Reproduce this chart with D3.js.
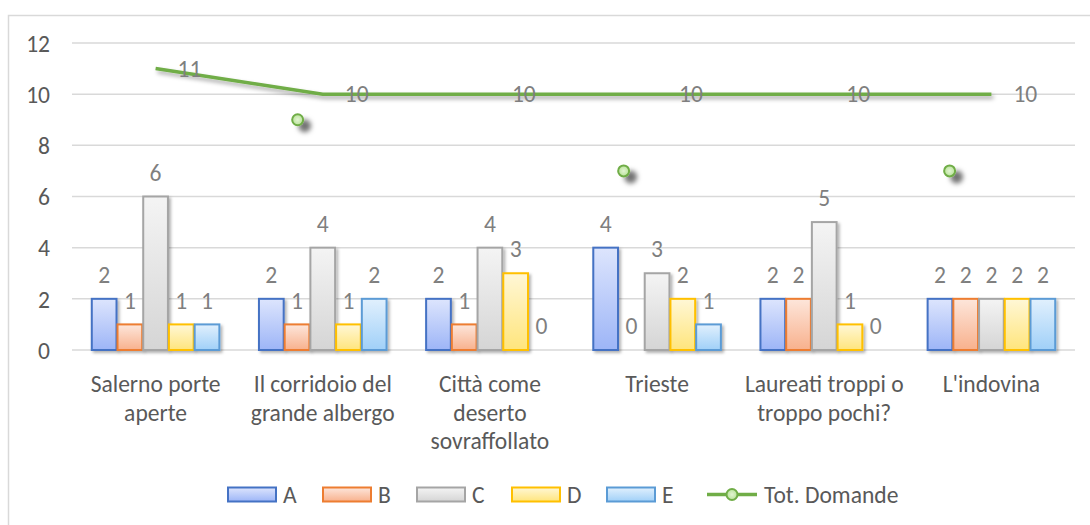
<!DOCTYPE html>
<html>
<head>
<meta charset="utf-8">
<script src="https://cdn.jsdelivr.net/npm/d3@7"></script>
<style>
  html, body { margin: 0; padding: 0; background: #ffffff; }
  svg { display: block; }
</style>
</head>
<body>
<svg id="chart" width="1090" height="525"></svg>
<script>
// ---------------- DATA ----------------
const categories = [
  "Salerno porte\naperte",
  "Il corridoio del\ngrande albergo",
  "Città come\ndeserto\nsovraffollato",
  "Trieste",
  "Laureati troppi o\ntroppo pochi?",
  "L'indovina"
];
const seriesNames = ["A", "B", "C", "D", "E"];
const valuesA = [2, 2, 2, 4, 2, 2];
const valuesB = [1, 1, 1, 0, 2, 2];
const valuesC = [6, 4, 4, 3, 5, 2];
const valuesD = [1, 1, 3, 2, 1, 2];
const valuesE = [1, 2, 0, 1, 0, 2];
const lineName = "Tot. Domande";
const totDomande = [11, 10, 10, 10, 10, 10];
// stray line markers drawn by the original (category position index, value)
const strayMarkerPos = [0.85, 2.8, 4.75];
const strayMarkerVal = [9, 7, 7];
const yTicks = [0, 2, 4, 6, 8, 10, 12];

// ---------------- STYLE ----------------
const seriesValues = [valuesA, valuesB, valuesC, valuesD, valuesE];
const strokeColors = ["#4472c4", "#ed7d31", "#a5a5a5", "#ffc000", "#5b9bd5"];
const gradTop =    ["#dde5fd", "#fde6db", "#f4f4f4", "#fff7d6", "#e1f0fd"];
const gradBottom = ["#9db5f7", "#f8b18d", "#d5d5d5", "#ffe57c", "#a0d0f8"];
const lineColor = "#70ad47";
const gridColor = "#d9d9d9";
const textColor = "#595959";
const labelColor = "#7f7f7f";
const fontFamily = "Carlito, Calibri, Lato, 'Open Sans', sans-serif";

const svg = d3.select("#chart");

// font size calibration so that text widths match the reference
const probe = svg.append("text").attr("font-family", fontFamily).attr("font-size", 100).text("Salerno porte");
const probeW = probe.node().getComputedTextLength();
probe.remove();
const fs = Math.max(16, Math.min(24, 100 * 130 / probeW));

// ---------------- LAYOUT ----------------
const plotLeft = 72, plotRight = 1075, plotTop = 43, plotBottom = 350;

const x = d3.scaleBand().domain(d3.range(categories.length)).range([plotLeft, plotRight]).paddingInner(0).paddingOuter(0);
const groupW = x.bandwidth() / 1.3;
const xs = d3.scaleBand().domain(seriesNames).range([0, groupW]).padding(0);
const xIdx = d3.scaleLinear().domain([-0.5, categories.length - 0.5]).range([plotLeft, plotRight]);
const y = d3.scaleLinear().domain([0, 12]).range([plotBottom, plotTop]);

// defs
const defs = svg.append("defs");
seriesNames.forEach((s, i) => {
  const g = defs.append("linearGradient").attr("id", "grad" + s).attr("x1", 0).attr("y1", 0).attr("x2", 0).attr("y2", 1);
  g.append("stop").attr("offset", "0%").attr("stop-color", gradTop[i]);
  g.append("stop").attr("offset", "100%").attr("stop-color", gradBottom[i]);
});
const mg = defs.append("radialGradient").attr("id", "markerGrad");
mg.append("stop").attr("offset", "0%").attr("stop-color", "#e2f4d2");
mg.append("stop").attr("offset", "100%").attr("stop-color", "#b9e39a");
const fBar = defs.append("filter").attr("id", "barShadow").attr("x", "-20%").attr("y", "-20%").attr("width", "150%").attr("height", "150%");
fBar.append("feDropShadow").attr("dx", 2).attr("dy", 2).attr("stdDeviation", 1.5).attr("flood-color", "#000").attr("flood-opacity", 0.3);
const fLine = defs.append("filter").attr("id", "lineShadow").attr("x", "-10%").attr("y", "-50%").attr("width", "120%").attr("height", "300%");
fLine.append("feDropShadow").attr("dx", 2).attr("dy", 3).attr("stdDeviation", 2).attr("flood-color", "#000").attr("flood-opacity", 0.35);
const fMark = defs.append("filter").attr("id", "markShadow").attr("x", "-100%").attr("y", "-100%").attr("width", "400%").attr("height", "400%");
fMark.append("feDropShadow").attr("dx", 7).attr("dy", 6).attr("stdDeviation", 2.5).attr("flood-color", "#000").attr("flood-opacity", 0.55);

// chart border
svg.append("rect").attr("x", 8.5).attr("y", 15.5).attr("width", 1200).attr("height", 600)
  .attr("fill", "none").attr("stroke", gridColor).attr("stroke-width", 1.5);

// gridlines
svg.append("g").selectAll("line").data(yTicks).join("line")
  .attr("x1", plotLeft).attr("x2", plotRight)
  .attr("y1", d => y(d)).attr("y2", d => y(d))
  .attr("stroke", gridColor).attr("stroke-width", 1.5);

// y axis labels
const yAxis = d3.axisLeft(y).tickValues(yTicks).tickSize(0).tickPadding(0).tickFormat(d3.format("d"));
const yg = svg.append("g").attr("transform", `translate(50,0)`).call(yAxis);
yg.select(".domain").remove();
yg.selectAll("text").attr("font-family", fontFamily).attr("font-size", fs).attr("fill", textColor)
  .attr("dy", "0.35em").attr("x", 0);

// bars
const barsG = svg.append("g");
seriesNames.forEach((s, i) => {
  const vals = seriesValues[i];
  barsG.append("g").selectAll("rect").data(vals).join("rect")
    .attr("x", (d, c) => x(c) + (x.bandwidth() - groupW) / 2 + xs(s) + 0.5)
    .attr("y", d => y(d))
    .attr("width", xs.bandwidth() - 1)
    .attr("height", d => y(0) - y(d))
    .attr("fill", "url(#grad" + s + ")")
    .attr("stroke", d => d > 0 ? strokeColors[i] : "none")
    .attr("stroke-width", 2)
    .attr("filter", "url(#barShadow)");
});
// bar labels
seriesNames.forEach((s, i) => {
  const vals = seriesValues[i];
  svg.append("g").selectAll("text").data(vals).join("text")
    .attr("x", (d, c) => x(c) + (x.bandwidth() - groupW) / 2 + xs(s) + xs.bandwidth() / 2)
    .attr("y", d => y(d) - 24)
    .attr("dy", "0.35em")
    .attr("text-anchor", "middle")
    .attr("font-family", fontFamily).attr("font-size", fs).attr("fill", labelColor)
    .text(d => d);
});

// line
const lineGen = d3.line().x((d, i) => x(i) + x.bandwidth() / 2).y(d => y(d));
svg.append("path").datum(totDomande).attr("d", lineGen)
  .attr("fill", "none").attr("stroke", lineColor).attr("stroke-width", 3.5)
  .attr("filter", "url(#lineShadow)");
svg.append("g").selectAll("text").data(totDomande).join("text")
  .attr("x", (d, i) => x(i) + x.bandwidth() / 2 + 22)
  .attr("y", d => y(d))
  .attr("dy", "0.35em")
  .attr("font-family", fontFamily).attr("font-size", fs).attr("fill", labelColor)
  .text(d => d);

// stray markers
svg.append("g").selectAll("circle").data(strayMarkerVal).join("circle")
  .attr("cx", (d, i) => xIdx(strayMarkerPos[i]))
  .attr("cy", d => y(d))
  .attr("r", 5.5)
  .attr("fill", "url(#markerGrad)").attr("stroke", lineColor).attr("stroke-width", 2)
  .attr("filter", "url(#markShadow)");

// category labels
const catG = svg.append("g");
categories.forEach((c, i) => {
  const t = catG.append("text")
    .attr("x", x(i) + x.bandwidth() / 2)
    .attr("y", 392)
    .attr("text-anchor", "middle")
    .attr("font-family", fontFamily).attr("font-size", fs).attr("fill", textColor);
  c.split("\n").forEach((ln, k) => {
    t.append("tspan").attr("x", x(i) + x.bandwidth() / 2).attr("y", 392 + k * 28.5).text(ln);
  });
});

// legend
const legendY = 494.5;
const legendX = [228, 323, 417, 512, 607];
const lg = svg.append("g");
seriesNames.forEach((s, i) => {
  lg.append("rect").attr("x", legendX[i]).attr("y", legendY - 7).attr("width", 48).attr("height", 14)
    .attr("fill", "url(#grad" + s + ")").attr("stroke", strokeColors[i]).attr("stroke-width", 2);
  lg.append("text").attr("x", legendX[i] + 55).attr("y", legendY).attr("dy", "0.35em")
    .attr("font-family", fontFamily).attr("font-size", fs).attr("fill", textColor).text(s);
});
const lineLegX = 707;
lg.append("line").attr("x1", lineLegX).attr("x2", lineLegX + 50).attr("y1", legendY).attr("y2", legendY)
  .attr("stroke", lineColor).attr("stroke-width", 3.5);
lg.append("circle").attr("cx", lineLegX + 25).attr("cy", legendY).attr("r", 5.5)
  .attr("fill", "url(#markerGrad)").attr("stroke", lineColor).attr("stroke-width", 2);
lg.append("text").attr("x", lineLegX + 57).attr("y", legendY).attr("dy", "0.35em")
  .attr("font-family", fontFamily).attr("font-size", fs).attr("fill", textColor).text(lineName);
</script>
</body>
</html>
